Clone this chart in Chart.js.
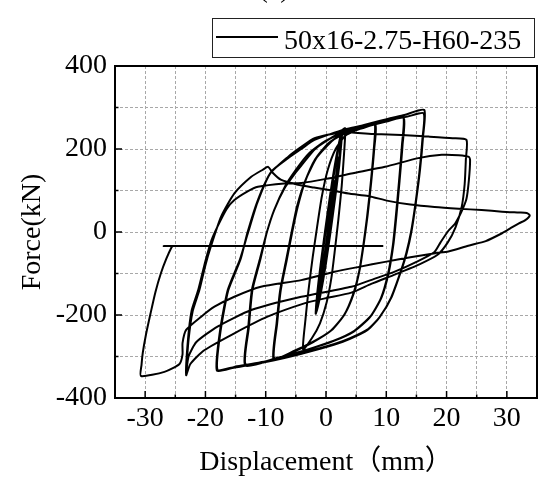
<!DOCTYPE html>
<html>
<head>
<meta charset="utf-8">
<script src="https://cdn.jsdelivr.net/npm/chart.js@4.4.0/dist/chart.umd.min.js"></script>
<style>
  html, body { margin: 0; padding: 0; background: #fff; }
</style>
</head>
<body>
<canvas id="chart" width="559" height="488"></canvas>
<script>
const seriesName = '50x16-2.75-H60-235';
const xLabelValues = [-30, -20, -10, 0, 10, 20, 30];
const yLabelValues = [-400, -200, 0, 200, 400];

// displacement (mm), force (kN) pairs, in loading order
const elastic = [
  [0, 0], [0.6, 40], [1.1, 90], [1.45, 125],
  [1.15, 90], [0.55, 30], [-0.1, -40], [-0.6, -90], [-0.95, -120],
  [-0.6, -95], [0.05, -30], [0.7, 35], [1.4, 105], [2.0, 170],
  [1.75, 140], [1.1, 75], [0.35, 0], [-0.4, -75], [-0.95, -130], [-1.3, -160],
  [-0.95, -130], [-0.3, -65], [0.45, 10], [1.15, 80], [1.75, 145], [2.1, 180],
  [1.85, 150], [1.2, 85], [0.4, 5], [-0.35, -70], [-1.0, -135], [-1.4, -170], [-1.6, -190],
  [-0.95, -150], [-0.1, -80], [0.7, 0], [1.45, 80], [2.15, 160], [2.5, 215], [2.65, 242],
  [2.0, 200], [1.05, 120], [0.25, 40], [-0.5, -40], [-1.2, -120], [-1.55, -170], [-1.65, -195],
  [-0.9, -150], [-0.05, -80], [0.75, 0], [1.5, 80], [2.2, 160], [2.55, 215], [2.7, 244],
  [2.05, 200], [1.1, 120], [0.3, 40], [-0.45, -40], [-1.15, -120], [-1.5, -170], [-1.6, -192],
  [-1.0, -150], [-0.15, -80], [0.65, 0], [1.4, 80], [2.1, 160], [2.45, 215], [2.6, 240],
  [1.95, 200], [1.0, 120], [0.2, 40], [-0.55, -40], [-1.25, -120], [-1.6, -170], [-1.7, -197],
  [-0.95, -150], [-0.05, -80], [0.7, 0], [1.45, 80], [2.15, 160], [2.55, 215], [2.7, 245]
];
const cycle4 = [
  [3.2, 250],
  [3.0, 190], [2.6, 110], [2.05, 30], [1.5, -40], [0.9, -110], [0.1, -170], [-1.0, -220], [-2.3, -255], [-3.8, -283],
  [-3.4, -210], [-2.9, -140], [-2.2, -60], [-1.5, 10], [-0.7, 85], [0.3, 150], [1.6, 200], [3.2, 232], [5, 245], [6.8, 254], [8.1, 260]
];
const cycle8 = [
  [7.9, 195], [7.4, 115], [6.8, 35], [6.2, -31], [5.5, -95], [4.5, -150], [3.0, -200], [0.8, -238], [-2.2, -265], [-5.5, -288], [-8.6, -305],
  [-8.1, -220], [-7.5, -140], [-6.5, -67], [-5.6, 0], [-4.7, 60], [-3.5, 120], [-1.8, 175], [0.5, 215], [3.2, 238], [6, 250], [8.2, 258],
  [8.0, 200], [7.5, 120], [6.9, 40], [6.3, -25], [5.6, -90], [4.6, -148], [3.1, -198], [0.9, -237], [-2.2, -266], [-5.6, -290], [-8.7, -307],
  [-8.2, -220], [-7.6, -140], [-6.6, -67], [-5.7, 0], [-4.8, 62], [-3.4, 125], [-1.5, 180], [1.2, 222], [4, 245], [7, 256], [10, 268], [12.8, 278]
];
const cycle13 = [
  [12.6, 210], [12.1, 120], [11.6, 40], [11.1, -31], [10.3, -100], [9.1, -160], [7.3, -205], [4.6, -240], [1.2, -263], [-3, -283], [-8, -303], [-13.3, -320],
  [-12.8, -230], [-12.2, -140], [-10.9, -67], [-9.8, 0], [-8.6, 53], [-6.8, 110], [-5.0, 150], [-2.8, 190], [0, 220], [3.5, 243], [7, 256], [10, 266], [12.9, 275],
  [12.7, 210], [12.2, 122], [11.7, 42], [11.2, -28], [10.4, -98], [9.2, -158], [7.4, -203], [4.7, -238], [1.3, -262], [-3, -283], [-8, -304], [-13.4, -322],
  [-12.9, -230], [-12.3, -140], [-11, -67], [-9.8, 0], [-8.6, 53], [-6.9, 105], [-5.2, 140], [-4.1, 160], [-1.8, 200], [1.5, 232], [5, 252], [9, 268], [13, 282], [16.3, 294]
];
const cycle17 = [
  [16.1, 230], [15.6, 150], [14.9, 70], [14.2, 3], [13.4, -50], [12.5, -92], [10.9, -156], [9, -203], [7, -234], [4, -256], [1.4, -270], [-4.1, -292], [-9.7, -311], [-15.2, -325], [-18, -332],
  [-17.5, -240], [-16.2, -140], [-14.2, -67], [-13, 0], [-11.3, 77], [-9.1, 145], [-6.3, 178], [-4.1, 200], [-1.9, 222], [3.1, 247], [9.2, 266], [13.5, 278], [16.2, 286],
  [16.0, 225], [15.5, 145], [14.8, 65], [14.1, 0], [13.3, -52], [12.4, -95], [10.8, -158], [8.9, -205], [6.9, -236], [3.9, -258], [1.3, -272], [-4.2, -294], [-9.8, -313], [-15.3, -327], [-18.1, -334]
];
const cycle23 = [
  [-17.6, -240], [-16.3, -140], [-14.3, -67], [-13, -5], [-11.4, 70], [-9.3, 140], [-6.3, 181], [-4.1, 205], [-1.9, 226], [2.5, 240], [8.1, 236], [12.5, 234], [17, 230], [21, 226], [23.3, 222],
  [23.2, 175], [23.0, 115], [22.5, 60], [21.5, 12], [20.2, -25], [18.5, -55], [15.5, -78], [11.5, -102], [7.5, -125], [4.2, -146], [-0.2, -160], [-3.6, -172], [-9.7, -204], [-15.2, -244], [-20.2, -285], [-22.5, -318], [-23.2, -345],
  [-22.9, -260], [-22.3, -190], [-21.2, -140], [-20, -70], [-19, -20], [-18, 13], [-16.5, 55], [-15.2, 77], [-13, 98], [-11.3, 109], [-6.9, 117], [-4.1, 118], [0, 128], [4.2, 141], [9.8, 157], [15.3, 178], [19.2, 186], [22, 185], [23.7, 181],
  [23.9, 173], [23.7, 125], [23.3, 80], [22.5, 50], [21.4, 20], [20.3, 3], [19, -25], [18, -48], [15, -72], [11.5, -95], [8, -113], [4.2, -132], [-4.1, -156], [-12.4, -188], [-18, -228], [-21.5, -265], [-22.8, -300], [-23.2, -340]
];
const failure = [
  [-22.8, -260], [-22.1, -190], [-21, -140], [-20, -80], [-19.1, -35], [-17.4, 37], [-15.2, 93], [-12.4, 133], [-10.5, 150], [-9.6, 157],
  [-8.8, 142], [-7.5, 126], [-5, 115], [-2, 107], [1, 100], [4, 92], [7, 87], [10.3, 75], [14, 66], [18, 60], [22, 56], [25.8, 53], [29.2, 49], [32, 47], [33.3, 46], [33.8, 40],
  [33, 28], [32, 21], [30.5, 8], [29.2, -3], [26.5, -22], [23.6, -33], [20.3, -47], [18.1, -51], [14, -61], [9.8, -72], [5.5, -84], [1.4, -96], [-4.1, -116], [-10.8, -132], [-15.2, -156], [-18.5, -180], [-20.7, -204], [-23.2, -236], [-23.8, -268], [-23.8, -295], [-24.3, -318], [-26.8, -337], [-30.7, -347]
];
const tail = [
  [-30.6, -320], [-30.4, -292], [-29.9, -250], [-29.1, -196], [-28.3, -145], [-27.4, -100], [-26.5, -65], [-25.6, -36], [-25.4, -34], [-26.9, -34], [9.5, -34]
];

const path = [].concat(elastic, cycle4, cycle8, cycle13, cycle17, cycle23, failure, tail)
  .map(([x, y]) => ({ x, y }));

const serif = "'Liberation Serif', 'Times New Roman', 'Noto Sans CJK SC', serif";

const framePlugin = {
  id: 'frame',
  afterDraw(chart) {
    const { ctx, chartArea: a, scales } = chart;
    ctx.save();
    ctx.strokeStyle = '#000';
    // inward ticks
    ctx.lineWidth = 1.5;
    for (let v = -30; v <= 30; v += 5) {
      const px = scales.x.getPixelForValue(v);
      const len = v % 10 === 0 ? 7 : 3.5;
      ctx.beginPath(); ctx.moveTo(px, a.bottom); ctx.lineTo(px, a.bottom - len); ctx.stroke();
    }
    for (let v = -300; v <= 300; v += 100) {
      const py = scales.y.getPixelForValue(v);
      const len = v % 200 === 0 ? 7 : 3.5;
      ctx.beginPath(); ctx.moveTo(a.left, py); ctx.lineTo(a.left + len, py); ctx.stroke();
    }
    ctx.lineWidth = 2;
    ctx.strokeRect(a.left, a.top, a.right - a.left, a.bottom - a.top);

    // legend box
    ctx.lineWidth = 1;
    ctx.strokeStyle = '#222';
    ctx.strokeRect(212.5, 18.5, 322, 39);
    ctx.strokeStyle = '#000';
    ctx.lineWidth = 1.8;
    ctx.beginPath(); ctx.moveTo(216, 37); ctx.lineTo(278, 37); ctx.stroke();
    ctx.fillStyle = '#000';
    ctx.font = '28px ' + serif;
    ctx.textAlign = 'left';
    ctx.textBaseline = 'alphabetic';
    ctx.fillText(chart.data.datasets[0].label, 284, 49);

    // panel caption, cut off at the top edge
    ctx.textAlign = 'center';
    ctx.fillText('(a)', 274, -3);
    ctx.restore();
  }
};

new Chart(document.getElementById('chart'), {
  type: 'scatter',
  data: {
    datasets: [{
      label: seriesName,
      data: path,
      showLine: true,
      borderColor: '#000',
      borderWidth: 2,
      pointRadius: 0,
      tension: 0.2,
      fill: false
    }]
  },
  options: {
    responsive: false,
    animation: false,
    layout: { padding: { top: 66, right: 22, left: 0, bottom: 0 } },
    plugins: { legend: { display: false }, tooltip: { enabled: false } },
    scales: {
      x: {
        type: 'linear',
        min: -35,
        max: 35,
        afterFit: s => { s.height = 90; },
        ticks: {
          stepSize: 5,
          autoSkip: false,
          maxRotation: 0,
          padding: 4,
          color: '#000',
          font: { family: serif, size: 28 },
          callback: v => xLabelValues.includes(v) ? String(v) : ''
        },
        grid: { color: '#a8a8a8', lineWidth: 1, drawTicks: false },
        border: { display: false, dash: [3, 2] },
        title: {
          display: true,
          text: 'Displacement（mm）',
          color: '#000',
          font: { family: serif, size: 28 },
          padding: { top: 0, bottom: 9 }
        }
      },
      y: {
        type: 'linear',
        min: -400,
        max: 400,
        afterFit: s => { s.width = 115; },
        ticks: {
          stepSize: 100,
          autoSkip: false,
          padding: 8,
          color: '#000',
          font: { family: serif, size: 28 },
          callback: v => yLabelValues.includes(v) ? String(v) : ''
        },
        grid: { color: '#a8a8a8', lineWidth: 1, drawTicks: false },
        border: { display: false, dash: [3, 2] },
        title: {
          display: true,
          text: 'Force(kN)',
          color: '#000',
          font: { family: serif, size: 28 },
          padding: { top: 16, bottom: 0 }
        }
      }
    }
  },
  plugins: [framePlugin]
});
</script>
</body>
</html>
